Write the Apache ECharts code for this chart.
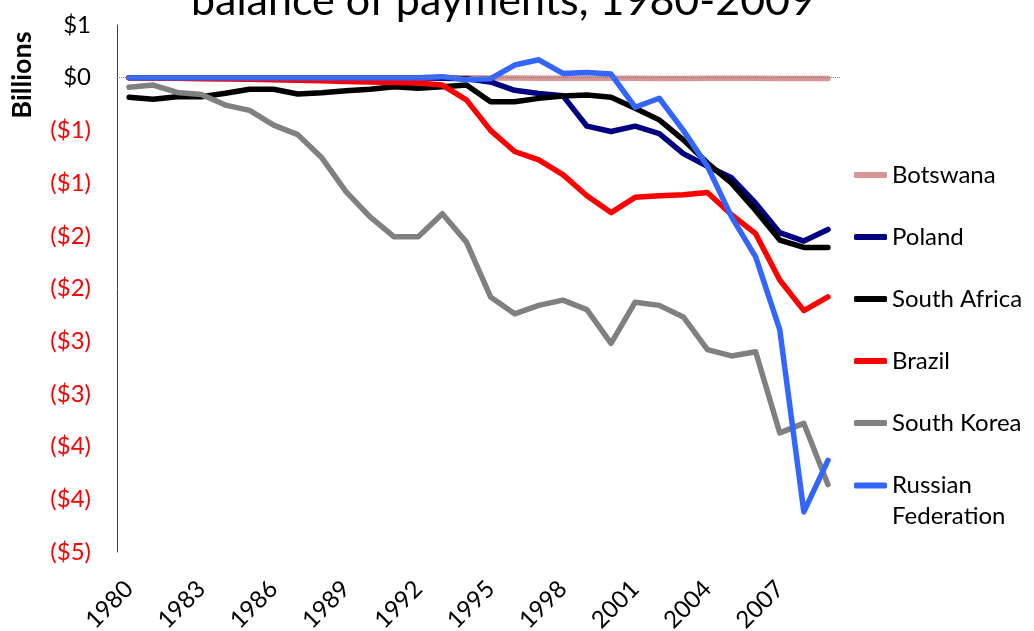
<!DOCTYPE html>
<html>
<head>
<meta charset="utf-8">
<script src="https://cdn.jsdelivr.net/npm/echarts@6/dist/echarts.min.js"></script>
<style>
  html, body { margin: 0; padding: 0; background: #fff; }
  #chart { width: 1034px; height: 631px; }
</style>
</head>
<body>
<div id="chart"></div>
<script>
// years on the category axis
const years = ['1980', '1981', '1982', '1983', '1984', '1985', '1986', '1987', '1988', '1989',
  '1990', '1991', '1992', '1993', '1994', '1995', '1996', '1997', '1998', '1999',
  '2000', '2001', '2002', '2003', '2004', '2005', '2006', '2007', '2008', '2009']

// balance, billions of dollars
const botswana = [0, 0, 0, 0, 0, 0, 0, 0, 0, 0, 0, 0, 0, 0, 0,
  -0.002, -0.004, -0.005, -0.006, -0.006, -0.006, -0.006, -0.007, -0.007, -0.006,
  -0.006, -0.006, -0.007, -0.007, -0.008]
const poland = [0, 0, 0, 0, 0, 0, 0, 0, 0, 0, 0, 0, 0, -0.005, -0.01,
  -0.04, -0.12, -0.15, -0.17, -0.46, -0.51, -0.46, -0.53, -0.72, -0.84,
  -0.95, -1.19, -1.47, -1.55, -1.44]
const southAfrica = [-0.186, -0.205, -0.18, -0.18, -0.148, -0.11, -0.11, -0.155, -0.142, -0.123,
  -0.11, -0.085, -0.1, -0.085, -0.07, -0.228, -0.228, -0.196, -0.174, -0.164,
  -0.186, -0.29, -0.4, -0.59, -0.81, -1.0, -1.26, -1.54, -1.61, -1.61]
const brazil = [0, -0.005, -0.005, -0.01, -0.012, -0.015, -0.02, -0.025, -0.03, -0.035,
  -0.04, -0.045, -0.05, -0.07, -0.21, -0.5, -0.7, -0.78, -0.92, -1.12,
  -1.28, -1.135, -1.12, -1.11, -1.09, -1.3, -1.48, -1.92, -2.21, -2.08]
const southKorea = [-0.09, -0.07, -0.14, -0.16, -0.26, -0.31, -0.45, -0.54, -0.76, -1.08,
  -1.32, -1.51, -1.51, -1.29, -1.56, -2.08, -2.24, -2.16, -2.11, -2.2,
  -2.52, -2.13, -2.16, -2.27, -2.58, -2.64, -2.6, -3.37, -3.28, -3.86]
const russia = [0, 0, 0, 0, 0, 0, 0, 0, 0, 0, 0, 0, 0, 0.01, -0.02,
  -0.01, 0.12, 0.17, 0.04, 0.05, 0.035, -0.28, -0.195, -0.5, -0.84,
  -1.32, -1.7, -2.39, -4.12, -3.63]

const FONT = 'Lato, "Open Sans", sans-serif'

// excel style money label: ($2) for negatives, rounded to whole dollars
function money(v) {
  const n = Math.round(Math.abs(v))
  return v < 0 ? '($' + n + ')' : '$' + n
}

function lineSeries(name, data, color) {
  return {
    name: name,
    type: 'line',
    data: data,
    symbol: 'none',
    smooth: false,
    lineStyle: { color: color, width: 5.5, cap: 'round', join: 'round' },
    itemStyle: { color: color },
    emphasis: { disabled: true }
  }
}

const chart = echarts.init(document.getElementById('chart'))

const series = [
  lineSeries('Botswana', botswana, '#D99594'),
  lineSeries('Poland', poland, '#000080'),
  lineSeries('South Africa', southAfrica, '#000000'),
  lineSeries('Brazil', brazil, '#FF0000'),
  lineSeries('South Korea', southKorea, '#808080'),
  lineSeries('Russian Federation', russia, '#3366FF')
]
// dotted zero line
series[0].markLine = {
  silent: true,
  symbol: 'none',
  label: { show: false },
  lineStyle: { type: 'dotted', color: '#808080', width: 1 },
  data: [{ yAxis: 0 }]
}

const legendBase = {
  orient: 'vertical',
  left: 854,
  padding: 0,
  itemWidth: 33,
  itemHeight: 6,
  icon: 'roundRect',
  selectedMode: false
}

chart.setOption({
  animation: false,
  backgroundColor: '#fff',
  grid: { left: 117, right: 194, top: 25, bottom: 79, containLabel: false, outerBoundsMode: 'none' },
  legend: [
    Object.assign({}, legendBase, {
      top: 159.5,
      itemGap: 31,
      data: ['Botswana', 'Poland', 'South Africa', 'Brazil', 'South Korea'],
      textStyle: { fontFamily: FONT, fontSize: 24, color: '#000', lineHeight: 31 }
    }),
    Object.assign({}, legendBase, {
      top: 439,
      data: ['Russian Federation'],
      // empty first line keeps "Russian" level with the icon
      formatter: function () { return '\nRussian\nFederation' },
      textStyle: { fontFamily: FONT, fontSize: 24, color: '#000', lineHeight: 31 }
    })
  ],
  xAxis: {
    type: 'category',
    data: years,
    boundaryGap: true,
    axisLine: { show: false },
    axisTick: { show: false },
    axisLabel: {
      interval: 2,
      rotate: 45,
      margin: 33,
      fontFamily: FONT,
      fontSize: 24,
      color: '#000'
    },
    splitLine: { show: false }
  },
  yAxis: {
    type: 'value',
    min: -4.5,
    max: 0.5,
    interval: 0.5,
    axisLine: { show: true, lineStyle: { color: '#404040', width: 1 } },
    axisTick: { show: false },
    splitLine: { show: false },
    axisLabel: {
      margin: 26,
      fontFamily: FONT,
      fontSize: 24,
      formatter: money,
      color: function (v) { return Number(v) < 0 ? '#FF0000' : '#000000' }
    }
  },
  graphic: [
    {
      type: 'text',
      x: 503,
      y: 1,
      style: {
        text: 'balance of payments, 1980-2009',
        font: '43px ' + FONT,
        fill: '#000',
        align: 'center',
        verticalAlign: 'middle'
      }
    },
    {
      type: 'text',
      x: 22,
      y: 75,
      rotation: Math.PI / 2,
      style: {
        text: 'Billions',
        font: 'bold 27px ' + FONT,
        fill: '#000',
        align: 'center',
        verticalAlign: 'middle'
      }
    }
  ],
  series: series
})
</script>
</body>
</html>
